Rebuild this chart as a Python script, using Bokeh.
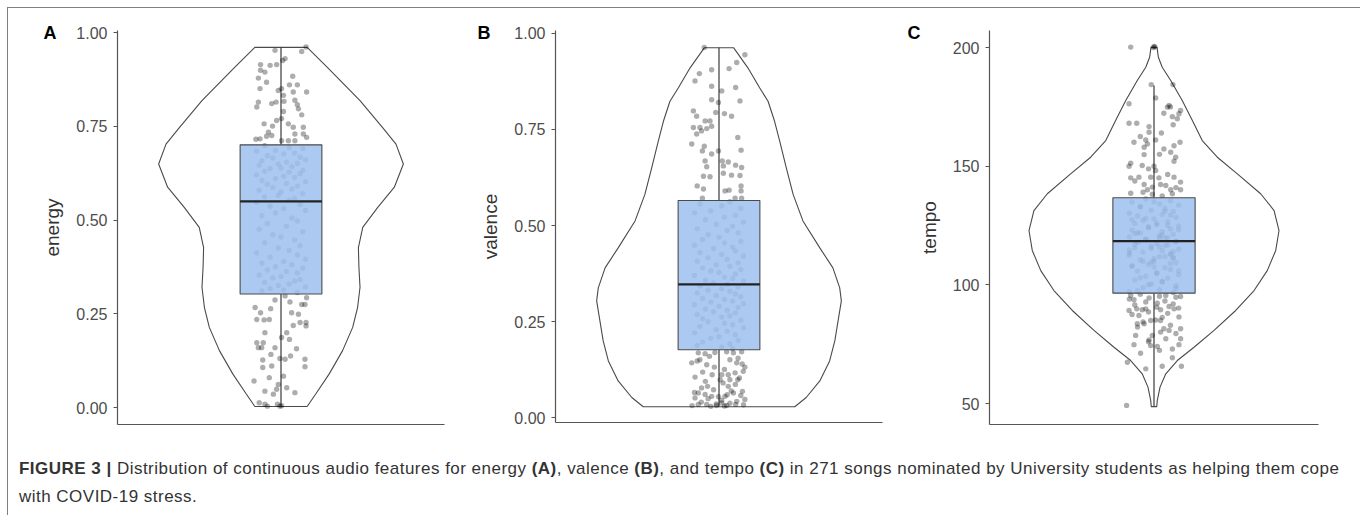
from bokeh.plotting import figure
from bokeh.models import Div, FixedTicker, NumeralTickFormatter, Range1d
from bokeh.layouts import row, column
from bokeh.embed import file_html
from bokeh.resources import INLINE

# ---------------- data ----------------
# box statistics: [lower whisker, Q1, median, Q3, upper whisker]
energy_stats = [0.003, 0.303, 0.550, 0.701, 0.961]
valence_stats = [0.029, 0.177, 0.347, 0.565, 0.962]
tempo_stats = [48.7, 96.5, 118.4, 136.7, 184.0]

# violin outline: value and half-width (x units)
energy_violin_y = [0.961, 0.907, 0.819, 0.747, 0.703, 0.650, 0.588, 0.534, 0.481, 0.427, 0.374, 0.321, 0.267, 0.214, 0.152, 0.090, 0.037, 0.003]
energy_violin_w = [0.096, 0.171, 0.290, 0.373, 0.422, 0.449, 0.416, 0.355, 0.300, 0.284, 0.286, 0.290, 0.281, 0.263, 0.226, 0.177, 0.128, 0.096]
valence_violin_y = [0.962, 0.910, 0.858, 0.823, 0.771, 0.719, 0.650, 0.581, 0.512, 0.442, 0.390, 0.338, 0.304, 0.252, 0.200, 0.148, 0.096, 0.053, 0.029]
valence_violin_w = [0.054, 0.106, 0.149, 0.180, 0.204, 0.223, 0.247, 0.272, 0.308, 0.370, 0.418, 0.443, 0.449, 0.437, 0.425, 0.406, 0.370, 0.320, 0.278]
tempo_violin_y = [200.1, 195.9, 191.7, 186.1, 177.7, 169.3, 160.8, 153.8, 146.8, 138.4, 131.3, 122.9, 114.5, 106.0, 97.6, 89.2, 80.8, 73.7, 68.1, 62.5, 56.9, 51.3, 48.7]
tempo_violin_w = [0.011, 0.016, 0.030, 0.061, 0.103, 0.140, 0.176, 0.231, 0.304, 0.389, 0.438, 0.456, 0.444, 0.413, 0.365, 0.298, 0.219, 0.146, 0.085, 0.043, 0.022, 0.012, 0.010]

# jittered songs: (value, horizontal jitter)
energy_high = [(0.953, -0.022), (0.950, 0.076), (0.962, 0.092), (0.926, 0.006), (0.931, 0.015), (0.915, -0.075), (0.913, -0.040), (0.915, -0.016), (0.900, -0.075), (0.895, -0.059), (0.879, -0.083), (0.868, -0.053), (0.851, -0.077), (0.846, -0.010), (0.851, 0.002), (0.861, 0.031), (0.861, 0.060), (0.884, 0.043), (0.842, 0.094), (0.842, 0.045), (0.833, 0.009), (0.815, -0.083), (0.802, -0.089), (0.811, -0.034), (0.815, -0.018), (0.817, 0.011), (0.820, 0.051), (0.808, 0.060), (0.797, 0.064), (0.781, 0.076), (0.790, 0.009), (0.771, 0.002), (0.757, -0.062), (0.751, -0.031), (0.766, -0.016), (0.757, 0.027), (0.748, 0.045), (0.748, 0.082), (0.735, -0.046), (0.726, -0.034), (0.717, -0.077), (0.724, -0.053), (0.730, 0.051), (0.730, 0.082), (0.721, 0.094), (0.712, 0.027), (0.712, 0.051), (0.712, 0.002), (0.716, -0.092)]
energy_mid_vals = [0.699, 0.694, 0.691, 0.686, 0.684, 0.679, 0.677, 0.672, 0.668, 0.666, 0.661, 0.659, 0.655, 0.652, 0.650, 0.647, 0.643, 0.640, 0.638, 0.633, 0.631, 0.628, 0.624, 0.621, 0.617, 0.614, 0.611, 0.606, 0.603, 0.598, 0.596, 0.591, 0.587, 0.583, 0.580, 0.575, 0.571, 0.566, 0.562, 0.557, 0.553, 0.548, 0.542, 0.537, 0.531, 0.526, 0.519, 0.512, 0.506, 0.498, 0.491, 0.484, 0.476, 0.469, 0.461, 0.455, 0.447, 0.440, 0.432, 0.426, 0.419, 0.413, 0.407, 0.401, 0.396, 0.390, 0.385, 0.381, 0.376, 0.372, 0.367, 0.363, 0.359, 0.354, 0.350, 0.346, 0.342, 0.338, 0.334, 0.330, 0.326, 0.322, 0.318, 0.314, 0.311, 0.307]
energy_mid_jit = [-0.06, 0.03, 0.08, -0.02, -0.09, 0.05, 0.01, -0.05, 0.07, -0.03, 0.09, -0.07, 0.02, 0.06, -0.01, -0.08, 0.04, 0.00, -0.04, 0.08, -0.06, 0.03, 0.07, -0.09, 0.01, 0.05, -0.02, -0.07, 0.09, 0.02, -0.05, 0.06, -0.03, 0.04, -0.08, 0.00, 0.08, -0.01, -0.06, 0.05, 0.03, -0.09, 0.07, -0.04, 0.01, 0.09, -0.02, -0.07, 0.04, 0.06, -0.05, 0.02, -0.08, 0.08, -0.03, 0.00, 0.05, -0.06, 0.07, -0.01, 0.03, -0.09, 0.06, -0.04, 0.09, 0.01, -0.07, 0.04, -0.02, 0.08, -0.05, 0.02, 0.06, -0.08, 0.00, -0.03, 0.07, 0.05, -0.06, 0.03, -0.01, 0.09, -0.04, 0.01, -0.07, 0.06]
energy_low = [(0.267, -0.095), (0.253, -0.075), (0.264, -0.038), (0.287, -0.022), (0.298, 0.015), (0.282, 0.033), (0.275, 0.076), (0.275, 0.088), (0.293, 0.094), (0.235, -0.089), (0.234, -0.062), (0.235, -0.043), (0.253, 0.039), (0.249, 0.064), (0.219, 0.045), (0.227, 0.070), (0.227, 0.092), (0.218, 0.092), (0.200, -0.059), (0.200, 0.021), (0.187, 0.002), (0.182, 0.031), (0.173, -0.089), (0.160, -0.083), (0.173, -0.065), (0.160, -0.071), (0.160, -0.022), (0.157, 0.057), (0.142, -0.037), (0.127, -0.067), (0.131, -0.004), (0.129, 0.015), (0.138, 0.035), (0.129, 0.088), (0.107, -0.067), (0.111, -0.034), (0.109, 0.088), (0.084, 0.009), (0.080, -0.043), (0.071, -0.099), (0.062, -0.010), (0.049, -0.016), (0.053, 0.021), (0.040, 0.051), (0.044, -0.059), (0.013, -0.080), (0.009, -0.059), (0.004, -0.050), (0.009, -0.013), (0.004, -0.004), (0.005, 0.002), (0.036, -0.028)]

valence_high = [(0.963, -0.054), (0.944, 0.095), (0.924, 0.065), (0.908, 0.037), (0.905, -0.027), (0.895, -0.072), (0.876, -0.088), (0.862, -0.027), (0.850, 0.010), (0.859, 0.061), (0.827, -0.027), (0.820, -0.002), (0.824, 0.077), (0.798, -0.094), (0.784, -0.082), (0.794, -0.012), (0.791, 0.020), (0.784, 0.046), (0.772, -0.051), (0.772, -0.033), (0.758, -0.027), (0.755, -0.094), (0.755, -0.070), (0.746, -0.064), (0.752, -0.045), (0.738, -0.082), (0.729, 0.069), (0.712, -0.100), (0.706, -0.054), (0.694, -0.061), (0.694, -0.002), (0.696, 0.081), (0.686, -0.027), (0.668, -0.051), (0.653, -0.045), (0.668, 0.012), (0.665, 0.034), (0.655, 0.016), (0.657, 0.061), (0.651, 0.083), (0.636, 0.016), (0.631, 0.046), (0.630, 0.077), (0.628, -0.057), (0.627, -0.033), (0.603, -0.080), (0.595, -0.057), (0.590, 0.022), (0.592, 0.037), (0.603, 0.081), (0.590, 0.081), (0.571, 0.059), (0.571, 0.083), (0.571, -0.061)]
valence_mid_vals = [0.562, 0.556, 0.551, 0.545, 0.538, 0.533, 0.527, 0.522, 0.515, 0.509, 0.503, 0.498, 0.492, 0.487, 0.481, 0.476, 0.470, 0.464, 0.459, 0.455, 0.449, 0.444, 0.440, 0.434, 0.430, 0.425, 0.421, 0.416, 0.412, 0.407, 0.403, 0.398, 0.394, 0.390, 0.386, 0.382, 0.378, 0.374, 0.370, 0.366, 0.362, 0.358, 0.355, 0.351, 0.347, 0.343, 0.340, 0.336, 0.332, 0.329, 0.325, 0.322, 0.318, 0.315, 0.311, 0.308, 0.304, 0.301, 0.297, 0.294, 0.290, 0.287, 0.283, 0.280, 0.276, 0.273, 0.269, 0.265, 0.262, 0.258, 0.254, 0.250, 0.246, 0.242, 0.238, 0.234, 0.229, 0.225, 0.221, 0.216, 0.211, 0.207, 0.202, 0.197, 0.192, 0.188, 0.184, 0.180]
valence_mid_jit = [0.04, -0.07, 0.01, 0.08, -0.03, -0.09, 0.06, 0.02, -0.05, 0.09, -0.01, 0.05, -0.08, 0.03, 0.07, -0.04, 0.00, -0.06, 0.08, 0.02, -0.09, 0.05, -0.02, 0.06, -0.07, 0.01, 0.09, -0.04, 0.03, -0.08, 0.07, -0.01, 0.04, -0.06, 0.08, -0.03, 0.00, 0.06, -0.09, 0.02, 0.05, -0.05, 0.09, -0.02, 0.03, -0.07, 0.07, 0.01, -0.04, 0.04, -0.08, 0.06, -0.01, 0.08, -0.06, 0.02, 0.05, -0.03, 0.09, -0.09, 0.00, 0.07, -0.05, 0.03, -0.02, 0.06, -0.08, 0.04, 0.01, -0.06, 0.08, -0.04, 0.02, 0.05, -0.07, 0.09, -0.01, 0.03, -0.09, 0.06, 0.00, -0.03, 0.07, -0.06, 0.04, -0.08, 0.01, 0.05]
valence_low = [(0.169, -0.076), (0.167, -0.051), (0.170, -0.015), (0.172, 0.028), (0.169, 0.053), (0.172, 0.083), (0.151, -0.070), (0.143, -0.100), (0.138, -0.045), (0.132, -0.017), (0.151, 0.040), (0.143, 0.065), (0.132, 0.095), (0.121, 0.089), (0.106, -0.088), (0.112, 0.010), (0.112, 0.034), (0.117, 0.059), (0.082, -0.042), (0.078, -0.064), (0.099, 0.004), (0.099, 0.040), (0.099, 0.069), (0.082, 0.034), (0.069, 0.086), (0.065, -0.076), (0.061, -0.051), (0.052, -0.088), (0.056, -0.027), (0.055, -0.002), (0.056, 0.022), (0.065, 0.053), (0.048, 0.095), (0.035, -0.076), (0.035, -0.045), (0.032, -0.009), (0.039, 0.010), (0.032, 0.028), (0.035, 0.061), (0.032, -0.099), (0.160, -0.035), (0.155, 0.070), (0.148, -0.080), (0.126, 0.020), (0.119, -0.060), (0.112, -0.025), (0.104, 0.075), (0.095, -0.050), (0.091, 0.015), (0.087, 0.060), (0.073, -0.020), (0.070, 0.045), (0.066, -0.090), (0.060, 0.030), (0.058, 0.080), (0.050, -0.040), (0.046, 0.010), (0.043, 0.065), (0.041, -0.065), (0.038, 0.040), (0.036, -0.010), (0.034, 0.090), (0.030, -0.030), (0.031, 0.020), (0.140, 0.085)]

tempo_high = [(200.2, -0.085), (200.5, 0.000), (200.3, 0.003), (200.0, -0.002), (184.4, -0.010), (184.4, 0.069), (178.8, 0.006), (176.3, -0.091), (174.9, 0.049), (175.6, 0.055), (172.3, 0.036), (170.9, 0.067), (170.0, 0.085), (173.5, 0.097), (172.1, 0.091), (168.1, -0.091), (168.1, -0.063), (166.7, -0.018), (164.3, -0.018), (164.0, 0.027), (160.1, -0.073), (161.1, -0.030), (161.1, 0.006), (158.0, -0.036), (159.4, -0.024), (157.3, 0.036), (158.6, 0.073), (160.1, 0.095), (155.9, 0.061), (154.9, -0.036), (153.8, 0.079), (152.1, 0.073), (151.3, -0.085), (150.3, -0.043), (150.0, -0.091), (150.0, 0.000), (148.2, 0.006), (145.1, -0.085), (145.4, -0.055), (145.4, -0.012), (145.1, 0.018), (145.4, 0.073), (142.3, -0.036), (141.2, -0.006), (142.3, 0.024), (141.9, 0.043), (143.3, 0.097), (140.1, -0.024), (138.6, -0.085), (140.1, 0.061), (138.4, 0.067), (140.1, 0.097), (138.2, -0.006), (137.5, 0.030), (139.0, -0.040), (141.0, 0.080), (143.8, -0.070), (146.5, 0.050), (148.9, -0.020), (155.0, 0.020), (162.5, -0.050), (167.5, 0.070), (175.0, 0.060)]
tempo_mid_vals = [136.2, 135.5, 134.9, 134.1, 133.6, 132.8, 132.2, 131.5, 130.9, 130.2, 129.7, 129.0, 128.4, 127.8, 127.1, 126.6, 125.9, 125.3, 124.8, 124.1, 123.6, 123.0, 122.4, 121.9, 121.3, 120.7, 120.2, 119.6, 119.0, 118.5, 117.9, 117.3, 116.8, 116.2, 115.6, 115.0, 114.4, 113.8, 113.1, 112.5, 111.9, 111.2, 110.6, 109.9, 109.3, 108.6, 107.9, 107.2, 106.5, 105.8, 105.1, 104.3, 103.6, 102.8, 102.0, 101.2, 100.4, 99.6, 98.8, 98.0, 97.2, 96.8, 135.0, 133.0, 131.0, 129.3, 127.5, 126.0, 124.5, 123.3, 122.0, 121.0, 120.0, 119.3, 118.2, 117.0, 116.0, 115.3, 114.0, 113.5, 112.0, 111.0, 110.0, 109.0, 108.0, 106.0, 104.8, 103.0, 101.5, 100.0, 98.5, 97.5, 125.0, 128.0, 119.8, 114.7, 111.6, 107.5, 121.6, 116.5, 112.8, 109.6]
tempo_mid_jit = [-0.03, 0.06, -0.08, 0.02, 0.09, -0.05, 0.04, -0.01, 0.07, -0.09, 0.03, -0.06, 0.08, 0.00, -0.04, 0.05, -0.07, 0.01, 0.09, -0.02, 0.06, -0.08, 0.03, -0.05, 0.07, 0.02, -0.09, 0.04, -0.03, 0.08, -0.06, 0.01, 0.05, -0.01, -0.07, 0.09, 0.03, -0.04, 0.06, -0.09, 0.02, 0.07, -0.05, 0.00, 0.08, -0.02, -0.08, 0.04, 0.06, -0.06, 0.01, 0.09, -0.03, 0.05, -0.07, 0.03, -0.01, 0.08, -0.04, 0.02, -0.09, 0.07, 0.00, -0.05, 0.04, 0.06, -0.08, 0.01, -0.02, 0.09, -0.06, 0.03, 0.05, -0.03, 0.08, -0.07, 0.02, -0.01, 0.07, -0.09, 0.04, 0.00, -0.04, 0.06, -0.08, 0.09, 0.01, -0.05, 0.03, -0.02, 0.08, -0.06, 0.05, -0.03, 0.02, -0.09, 0.07, 0.00, -0.07, 0.04, 0.06, -0.01]
tempo_low = [(95.5, -0.085), (93.7, -0.073), (94.5, -0.018), (95.5, 0.043), (95.1, 0.097), (89.2, -0.091), (89.9, -0.063), (89.5, -0.043), (89.9, -0.030), (89.5, 0.024), (90.9, 0.055), (89.9, 0.073), (92.3, 0.012), (87.1, -0.055), (85.0, -0.012), (85.2, 0.006), (85.0, 0.024), (86.5, 0.091), (83.6, -0.061), (83.6, -0.036), (81.5, 0.036), (80.8, 0.055), (81.5, 0.097), (80.1, 0.024), (78.7, -0.067), (78.7, -0.006), (76.8, -0.018), (77.3, 0.043), (77.3, 0.097), (74.4, -0.012), (74.0, 0.012), (74.8, -0.073), (73.0, 0.067), (74.8, 0.091), (71.2, -0.049), (69.3, 0.067), (67.4, -0.097), (64.6, -0.030), (65.7, 0.030), (65.7, 0.100), (49.2, -0.100), (96.0, -0.050), (95.2, 0.020), (94.8, 0.080), (94.0, -0.090), (93.2, 0.040), (92.8, -0.030), (92.0, 0.070), (91.5, -0.070), (90.6, 0.010), (90.2, 0.090), (88.6, -0.020), (88.0, 0.050), (87.5, -0.080), (86.3, 0.030), (84.4, -0.040), (83.0, 0.060), (82.2, -0.060), (79.5, 0.080), (76.0, -0.020), (72.4, 0.020)]

energy_ticks = [0.0, 0.25, 0.5, 0.75, 1.0]
valence_ticks = [0.0, 0.25, 0.5, 0.75, 1.0]
tempo_ticks = [50, 100, 150, 200]

FONT = "Liberation Sans"


def points(high, mid_vals, mid_jit, low):
    vals = [v for v, _ in high] + list(mid_vals) + [v for v, _ in low]
    jit = [j for _, j in high] + list(mid_jit[:len(mid_vals)]) + [j for _, j in low]
    return vals, jit


def make_panel(letter, letter_offset, ylabel, vals, jit, vy, vw, stats, yr, ticks, fmt,
               frame_h, b_left, f_width, b_right, b_bottom):
    p = figure(frame_width=f_width, frame_height=frame_h,
               min_border_left=b_left, min_border_right=b_right,
               min_border_top=22, min_border_bottom=b_bottom,
               x_range=Range1d(0.4, 1.6), y_range=Range1d(*yr),
               title=letter,
               output_backend="svg", toolbar_location=None)
    p.grid.visible = False
    p.outline_line_color = None
    p.background_fill_color = "white"
    p.border_fill_color = "white"

    # panel letter
    p.title.align = "left"
    p.title.offset = letter_offset
    p.title.standoff = -24
    p.title.text_font = FONT
    p.title.text_font_size = "18px"
    p.title.text_font_style = "bold"
    p.title.text_color = "black"

    xs = [1 + w for w in vw] + [1 - w for w in reversed(vw)]
    ys = list(vy) + list(reversed(vy))
    p.patch(xs, ys, fill_color="white", line_color="#4a4a4a", line_width=1.1)

    lo, q1, med, q3, hi = stats
    p.segment(x0=[1, 1], y0=[lo, q3], x1=[1, 1], y1=[q1, hi],
              line_color="#3a3a3a", line_width=1.2)
    p.scatter([1 + j for j in jit], vals, size=5.4, fill_color="black",
              fill_alpha=0.32, line_color=None)
    p.vbar(x=[1], width=0.3, bottom=[q1], top=[q3], fill_color="#9dbff0",
           fill_alpha=0.85, line_color="#4a4a4a", line_width=1.1)
    p.segment(x0=[0.85], y0=[med], x1=[1.15], y1=[med],
              line_color="#222222", line_width=2.2)

    ya = p.yaxis[0]
    ya.ticker = FixedTicker(ticks=ticks)
    ya.formatter = NumeralTickFormatter(format=fmt)
    ya.axis_label = ylabel
    ya.axis_label_text_font = FONT
    ya.axis_label_text_font_style = "normal"
    ya.axis_label_text_font_size = "19px"
    ya.axis_label_text_color = "#333333"
    ya.axis_label_standoff = 10
    ya.major_label_text_font = FONT
    ya.major_label_text_font_size = "16px"
    ya.major_label_text_color = "#4d4d4d"
    ya.major_label_standoff = 6
    ya.major_tick_out = 4
    ya.major_tick_in = 0
    ya.minor_tick_line_color = None
    ya.axis_line_color = "#555555"
    ya.major_tick_line_color = "#555555"
    ya.axis_line_width = 1.2

    xa = p.xaxis[0]
    xa.ticker = FixedTicker(ticks=[])
    xa.major_tick_line_color = None
    xa.minor_tick_line_color = None
    xa.major_label_standoff = 0
    xa.major_tick_out = 0
    xa.axis_line_color = "#555555"
    xa.axis_line_width = 1.2
    return p


ev, ej = points(energy_high, energy_mid_vals, energy_mid_jit, energy_low)
vv, vj = points(valence_high, valence_mid_vals, valence_mid_jit, valence_low)
tv, tj = points(tempo_high, tempo_mid_vals, tempo_mid_jit, tempo_low)

pA = make_panel("A", -74, "energy", ev, ej, energy_violin_y, energy_violin_w, energy_stats,
                (-0.045, 1.006), energy_ticks, "0.00", 394, 109, 327, 4, 14)
pB = make_panel("B", -78, "valence", vv, vj, valence_violin_y, valence_violin_w, valence_stats,
                (-0.012, 1.007), valence_ticks, "0.00", 392, 107, 327, 6, 16)
pC = make_panel("C", -82, "tempo", tv, tj, tempo_violin_y, tempo_violin_w, tempo_stats,
                (41.15, 207.2), tempo_ticks, "0", 394, 101, 329, 36, 14)

caption = Div(
    text=('<b>FIGURE 3 |</b> Distribution of continuous audio features for energy <b>(A)</b>, '
          'valence <b>(B)</b>, and tempo <b>(C)</b> in 271 songs nominated by University students '
          'as helping them cope<br>with COVID-19 stress.'),
    width=1346, height=70,
    styles={"font-family": "'Liberation Sans', Arial, sans-serif", "font-size": "17px",
            "letter-spacing": "0.48px",
            "color": "#333333", "line-height": "28px", "padding-left": "6px",
            "padding-top": "12px", "white-space": "nowrap"})

layout = column(row(pA, pB, pC), caption,
                styles={"margin-left": "7px", "margin-top": "7px",
                        "border-top": "1px solid #808080", "border-left": "1px solid #808080",
                        "border-right": "1px solid #808080", "background": "white"})

with open("out.html", "w") as f:
    f.write(file_html(layout, INLINE))
